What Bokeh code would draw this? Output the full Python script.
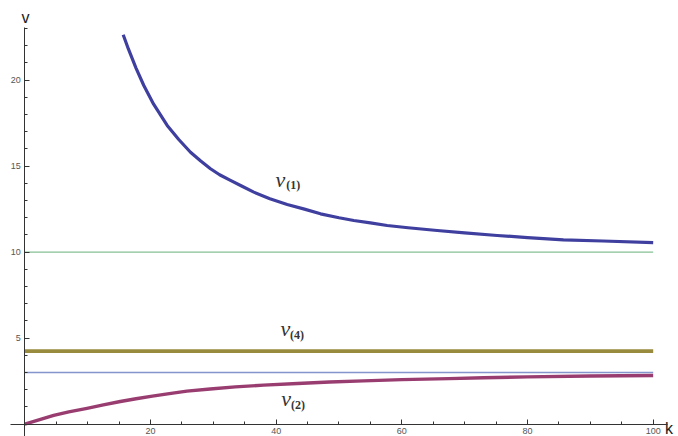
from bokeh.plotting import figure
from bokeh.models import Range1d, FixedTicker, LinearAxis
from bokeh.core.properties import value
from bokeh.embed import file_html
from bokeh.resources import INLINE

# ---- data ----
k1 = [15.66, 16.5, 17.7, 18.94, 20.5, 22.66, 24.5, 26.37, 28.0, 29.55, 31.0,
      32.73, 34.5, 36.44, 39.0, 41.76, 44.5, 47.06, 50.0, 52.36, 55.0, 57.67,
      61.0, 65.63, 70.0, 75.17, 80.0, 85.72, 92.0, 100.0]
v1 = [22.64, 21.8, 20.7, 19.69, 18.6, 17.37, 16.55, 15.81, 15.3, 14.85, 14.5,
      14.17, 13.85, 13.49, 13.1, 12.77, 12.5, 12.23, 12.0, 11.84, 11.7, 11.55,
      11.42, 11.26, 11.12, 10.97, 10.85, 10.72, 10.65, 10.55]

k2 = [0.0, 2.5, 4.6, 7.0, 9.9, 12.5, 15.2, 17.7, 20.3, 23.0, 25.8, 29.5,
      33.5, 38.0, 43.4, 48.5, 53.9, 60.0, 67.5, 73.0, 80.0, 90.0, 100.0]
v2 = [0.0, 0.28, 0.51, 0.72, 0.92, 1.12, 1.32, 1.48, 1.63, 1.78, 1.92, 2.05,
      2.17, 2.27, 2.37, 2.45, 2.52, 2.59, 2.65, 2.70, 2.75, 2.80, 2.83]

k_flat = [0.0, 100.0]
v4 = 4.25        # thick olive level
level_10 = 10.0  # thin green asymptote
level_3 = 3.0    # thin blue asymptote

x_ticks = [20, 40, 60, 80, 100]
x_minor = list(range(5, 101, 5))
y_ticks = [5, 10, 15, 20]
y_minor = list(range(1, 24))

p = figure(width=678, height=436, output_backend="svg", toolbar_location=None,
           x_range=Range1d(-3.867, 104.03), y_range=Range1d(-0.715, 24.63),
           min_border=0, x_axis_location=None, y_axis_location=None)
p.outline_line_color = None
p.background_fill_color = "white"
p.border_fill_color = "white"
for g in list(p.xgrid) + list(p.ygrid):
    g.visible = False

axis_color = "#333333"
xaxis = LinearAxis(fixed_location=0,
                   ticker=FixedTicker(ticks=x_ticks, minor_ticks=x_minor),
                   bounds=(-2.3, 102.3))
yaxis = LinearAxis(fixed_location=0,
                   ticker=FixedTicker(ticks=y_ticks, minor_ticks=y_minor),
                   bounds=(-0.8, 23.06))
for ax in (xaxis, yaxis):
    ax.axis_line_color = axis_color
    ax.axis_line_width = 1
    ax.major_tick_line_color = axis_color
    ax.minor_tick_line_color = axis_color
    ax.major_tick_in = 5
    ax.major_tick_out = 0
    ax.minor_tick_in = 3
    ax.minor_tick_out = 0
    ax.major_label_text_font = "Liberation Sans"
    ax.major_label_text_font_size = "9px"
    ax.major_label_text_color = "#555555"
xaxis.major_label_standoff = 4
yaxis.major_label_standoff = 4
p.add_layout(xaxis, "below")
p.add_layout(yaxis, "left")

# horizontal levels
p.line(k_flat, [level_10, level_10], line_color="#86c094", line_width=1.3)
p.line(k_flat, [level_3, level_3], line_color="#8494cc", line_width=1.5)
p.line(k_flat, [v4, v4], line_color="#998b3d", line_width=3.8)

# curves
p.line(k2, v2, line_color="#993d71", line_width=3.4, line_join="round")
p.line(k1, v1, line_color="#3f3f9f", line_width=3.2, line_join="round")

# curve labels
lab_color = "#333333"
p.text(x=[39.9, 40.69, 40.8], y=[14.23, 5.56, 1.48], text=["v", "v", "v"],
       text_font=value("Liberation Serif"), text_font_style="italic",
       text_font_size="22px", text_color=lab_color,
       text_align="left", text_baseline="middle")
p.text(x=[41.6, 42.2, 42.35], y=[13.89, 5.20, 1.13], text=["(1)", "(4)", "(2)"],
       text_font=value("Liberation Serif"), text_font_style="bold",
       text_font_size="12px", text_color=lab_color,
       text_align="left", text_baseline="middle")

# axis labels
p.text(x=[0.11], y=[23.66], text=["v"], text_font=value("Liberation Sans"),
       text_font_size="16px", text_color="#222222",
       text_align="center", text_baseline="middle")
p.text(x=[101.9], y=[-0.25], text=["k"], text_font=value("Liberation Sans"),
       text_font_size="16px", text_color="#222222",
       text_align="left", text_baseline="middle")

open("out.html", "w").write(file_html(p, INLINE))
